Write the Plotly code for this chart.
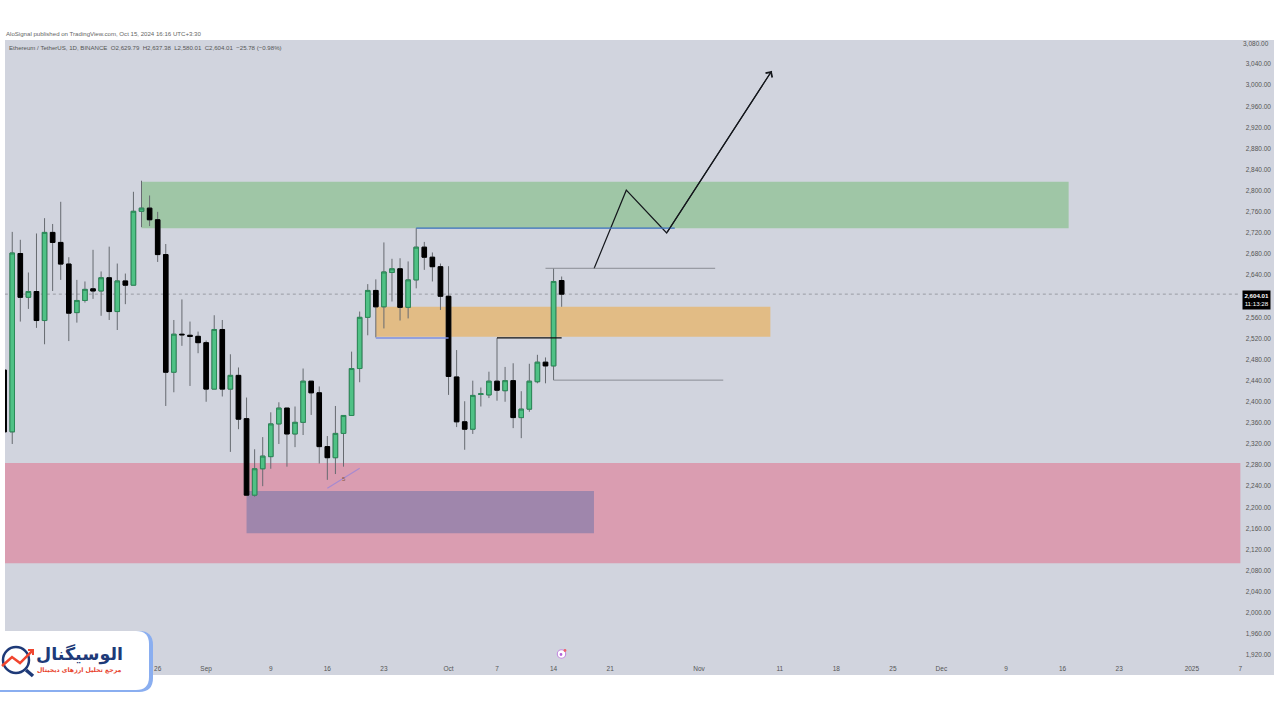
import pandas as pd
import plotly.graph_objects as go

start_date = "2024-08-07"
opens = [2460,2343,2681,2598,2609,2554,2721,2702,2661,2569,2592,2614,2610,2635,2571,2629,2621,2761,2767,2745,2679,2456,2528,2526,2524,2512,2424,2537,2424,2450,2368,2223,2273,2296,2358,2388,2339,2361,2439,2417,2315,2294,2340,2374,2463,2560,2611,2580,2645,2652,2579,2631,2693,2674,2656,2600,2447,2362,2348,2414,2413,2439,2421,2440,2370,2386,2438,2475,2468,2629.79]
highs = [2470,2722,2707,2645,2719,2748,2737,2779,2674,2631,2628,2688,2647,2694,2662,2643,2798,2819,2791,2760,2699,2555,2594,2552,2533,2516,2564,2555,2490,2465,2408,2310,2333,2380,2399,2388,2391,2463,2439,2429,2335,2392,2374,2495,2571,2623,2632,2702,2671,2672,2666,2729,2703,2683,2662,2657,2498,2401,2440,2427,2457,2521,2466,2473,2420,2472,2489,2484,2653,2637.38]
lows = [2320,2320,2552,2576,2540,2509,2610,2631,2515,2550,2588,2595,2563,2555,2536,2585,2621,2731,2733,2665,2392,2418,2506,2430,2492,2400,2424,2410,2305,2348,2223,2220,2240,2273,2320,2277,2314,2337,2375,2283,2252,2263,2277,2374,2437,2526,2522,2539,2590,2554,2558,2615,2650,2628,2574,2413,2352,2309,2339,2391,2407,2402,2400,2350,2331,2381,2435,2435,2441,2580.01]
closes = [2343,2682,2598,2609,2554,2721,2702,2661,2568,2592,2613,2610,2635,2571,2629,2621,2761,2767,2745,2679,2456,2528,2527,2524,2512,2424,2537,2424,2450,2367,2223,2273,2297,2358,2388,2339,2361,2439,2417,2315,2294,2340,2374,2463,2560,2611,2580,2646,2652,2579,2631,2693,2674,2656,2600,2448,2362,2348,2412,2415,2439,2422,2440,2370,2386,2439,2475,2468,2628,2604.01]

y_ticks = [v for v in range(1920, 3041, 40) if v != 2600]
top_tick = 3080
x_tick_dates = ["2024-08-26","2024-09-01","2024-09-09","2024-09-16","2024-09-23","2024-10-01","2024-10-07","2024-10-14","2024-10-21","2024-11-01","2024-11-11","2024-11-18","2024-11-25","2024-12-01","2024-12-09","2024-12-16","2024-12-23","2025-01-01","2025-01-07"]
x_tick_text = ["26","Sep","9","16","23","Oct","7","14","21","Nov","11","18","25","Dec","9","16","23","2025","7"]
path_x = ["2024-10-19","2024-10-23","2024-10-28","2024-11-10"]
path_y = [2652,2801,2720,3027]
swing_x = ["2024-09-16","2024-09-20"]
swing_y = [2236,2274]
last_price = 2604.01

n = min(len(opens), len(highs), len(lows), len(closes))
dates = pd.date_range(start_date, periods=n, freq="D")
UP, UP_EDGE, DOWN = "#4FC185", "#2B8A58", "#000000"
WICK = "#666A70"
body_hi = [max(o, c) for o, c in zip(opens, closes)]
body_lo = [min(o, c) for o, c in zip(opens, closes)]

fig = go.Figure()
fig.add_trace(go.Candlestick(x=dates, open=opens, high=highs, low=lows, close=closes,
    increasing=dict(line=dict(color=WICK, width=1), fillcolor=WICK),
    decreasing=dict(line=dict(color=WICK, width=1), fillcolor=WICK),
    hoverinfo="skip", showlegend=False))
fig.add_trace(go.Candlestick(x=dates, open=opens, high=body_hi, low=body_lo, close=closes,
    increasing=dict(line=dict(color=UP_EDGE, width=1), fillcolor=UP),
    decreasing=dict(line=dict(color=DOWN, width=1), fillcolor=DOWN),
    hoverinfo="skip", showlegend=False))
fig.add_trace(go.Scatter(x=path_x, y=path_y, mode="lines", line=dict(color="#14171C", width=1.2),
    hoverinfo="skip", showlegend=False))
fig.add_trace(go.Scatter(x=swing_x, y=swing_y, mode="lines", line=dict(color="#A78AD0", width=1.2),
    hoverinfo="skip", showlegend=False))

def zone(x0, x1, y0, y1, color):
    fig.add_shape(type="rect", xref="x", yref="y", x0=x0, x1=x1, y0=y0, y1=y1,
                  fillcolor=color, line_width=0, layer="below")

def seg(x0, x1, y0, y1, color, width=1, dash="solid", layer="above"):
    fig.add_shape(type="line", xref="x", yref="y", x0=x0, x1=x1, y0=y0, y1=y1,
                  line=dict(color=color, width=width, dash=dash), layer=layer)

zone("2024-08-24", "2024-12-16 18:00", 2729, 2817, "#9FC6A6")
zone("2024-09-22", "2024-11-09 20:00", 2523, 2580, "#E2BC85")
zone("2024-08-07 02:00", "2025-01-07", 2094, 2284, "#DA9DB1")
zone("2024-09-06", "2024-10-19", 2151, 2231, "#9F86AC")
seg("2024-08-07 02:00", "2025-01-07", last_price, last_price, "#8A8D95", 0.8, "dot", "below")
seg("2024-09-27", "2024-10-29", 2729, 2729, "#3B6FBF", 1.2)
seg("2024-09-22", "2024-10-01", 2521, 2521, "#7E8FDB", 1.5)
seg("2024-10-07", "2024-10-15", 2521, 2521, "#111111", 1.2)
seg("2024-10-13", "2024-11-03", 2653, 2653, "#8A8D94", 1)
seg("2024-10-14", "2024-11-04", 2441, 2441, "#8A8D94", 1)

# pixel helpers for the decoration sitting on top of the chart
PX = lambda v: (v - 5) / 1269
PY = lambda v: (675 - v) / 635.5

def rounded(x0, y0, x1, y1, r, color):
    p = (f"M {PX(x0)} {PY(y0)} L {PX(x1-r)} {PY(y0)} Q {PX(x1)} {PY(y0)} {PX(x1)} {PY(y0+r)} "
         f"L {PX(x1)} {PY(y1-r)} Q {PX(x1)} {PY(y1)} {PX(x1-r)} {PY(y1)} L {PX(x0)} {PY(y1)} Z")
    fig.add_shape(type="path", xref="paper", yref="paper", path=p, fillcolor=color, line_width=0, layer="above")

def circle(cx, cy, r, fill, line, lw):
    fig.add_shape(type="circle", xref="paper", yref="paper", x0=PX(cx-r), x1=PX(cx+r), y0=PY(cy+r), y1=PY(cy-r),
                  fillcolor=fill, line=dict(color=line, width=lw), layer="above")

def pline(pts, color, width):
    p = "M " + " L ".join(f"{PX(x)} {PY(y)}" for x, y in pts)
    fig.add_shape(type="path", xref="paper", yref="paper", path=p, line=dict(color=color, width=width), layer="above")

rounded(-2, 631, 153, 692, 14, "#8AAEF0")
rounded(-2, 631, 149, 690, 13, "#FFFFFF")
circle(16, 660, 13, "rgba(255,255,255,0)", "#1E3A78", 2.5)
pline([(26, 670), (33, 676)], "#1E3A78", 3.5)
pline([(2, 666), (12, 657), (20, 663), (33, 650)], "#F0452E", 2.5)
pline([(28, 650), (33, 650), (33, 655)], "#F0452E", 2)
circle(561.5, 654, 4.2, "#FFFFFF", "#C48AE0", 1.1)
circle(561, 654.5, 1.4, "#B565D8", "#B565D8", 0)
circle(565, 650.5, 1.4, "#F0606A", "#F0606A", 0)

FONT = "Liberation Sans"
def note(x, y, text, size, color, anchor="left", bg=None, family=FONT):
    fig.add_annotation(xref="paper", yref="paper", x=PX(x), y=PY(y), text=text, showarrow=False,
                       xanchor=anchor, yanchor="middle", font=dict(family=family, size=size, color=color),
                       bgcolor=bg, borderpad=0, align="center")

note(5, 33, "AloSignal published on TradingView.com, Oct 15, 2024 16:16 UTC+3:30", 6.1, "#666666")
note(8, 47, "Ethereum / TetherUS, 1D, BINANCE &nbsp;O2,629.79 &nbsp;H2,637.38 &nbsp;L2,580.01 &nbsp;C2,604.01 &nbsp;−25.78 (−0.98%)", 6.1, "#555555")
note(124, 654, "<b>الوسيگنال</b>", 17.5, "#1E3A78", "right", family="DejaVu Sans")
note(123, 670, "<b>مرجع تحلیل ارزهای دیجیتال</b>", 6.2, "#E8432E", "right", family="DejaVu Sans")

fig.add_annotation(xref="paper", yref="y", x=PX(1270.5), y=top_tick, text=f"{top_tick:,.2f}", showarrow=False, xanchor="right",
                   font=dict(family=FONT, size=6.5, color="#555555"))
fig.add_annotation(xref="x", yref="y", x="2024-09-18", y=2254, text="5", showarrow=False,
                   font=dict(family=FONT, size=6, color="#8C5A40"))
fig.add_annotation(xref="paper", yref="y", x=PX(1256.5), y=last_price - 11,
                   text="<b>2,604.01</b><br>11:13:28", showarrow=False, align="center", xanchor="center", yanchor="middle",
                   bgcolor="#000000", font=dict(family=FONT, size=6.2, color="#FFFFFF"), borderpad=1.4)
fig.add_annotation(xref="x", yref="y", axref="x", ayref="y", x=path_x[-1], y=path_y[-1], ax=path_x[-2], ay=path_y[-2],
                   text="", showarrow=True, arrowhead=4, arrowsize=1.4, arrowwidth=1.1, arrowcolor="#14171C", standoff=0)

fig.update_layout(
    width=1280, height=720, autosize=False, paper_bgcolor="#FFFFFF", plot_bgcolor="#D1D4DE",
    margin=dict(l=5, r=6, t=39.5, b=45), showlegend=False, boxgap=0.2,
    xaxis=dict(type="date", range=["2024-08-07 02:30", "2025-01-11 04:00"], rangeslider=dict(visible=False),
               tickmode="array", tickvals=x_tick_dates, ticktext=x_tick_text, ticklabelposition="inside",
               showgrid=False, zeroline=False, showline=False, ticks="",
               tickfont=dict(family=FONT, size=6.5, color="#555555")),
    yaxis=dict(side="right", range=[1882.1, 3085.7], tickmode="array", tickvals=y_ticks,
               ticktext=[f"{v:,.2f}" for v in y_ticks], ticklabelposition="inside",
               showgrid=False, zeroline=False, showline=False, ticks="",
               tickfont=dict(family=FONT, size=6.5, color="#555555")),
)
fig.write_html("out.html", config=dict(displayModeBar=False), post_script="document.body.style.margin='0';")
